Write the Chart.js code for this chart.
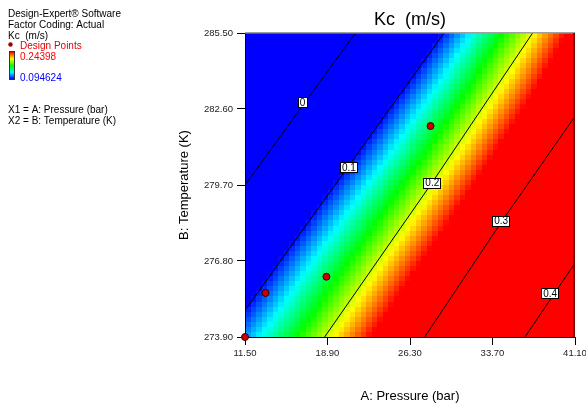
<!DOCTYPE html>
<html>
<head>
<meta charset="utf-8">
<script src="https://cdn.jsdelivr.net/npm/chart.js@4.4.1/dist/chart.umd.min.js"></script>
<style>
html,body{margin:0;padding:0;background:#fff;}
#wrap{width:586px;height:405px;position:relative;}
canvas{display:block;}
</style>
</head>
<body>
<div id="wrap"><canvas id="c" width="586" height="405"></canvas></div>
<script>
// ---------- data ----------
const pressureTicks = [11.5, 18.9, 26.3, 33.7, 41.1];        // A: Pressure (bar)
const temperatureTicks = [273.9, 276.8, 279.7, 282.6, 285.5]; // B: Temperature (K)
// Kc (m/s) read at the tick nodes: one row per temperature, one column per pressure
const kcAt2739 = [0.117, 0.201, 0.285, 0.368, 0.450];
const kcAt2768 = [0.060, 0.148, 0.233, 0.316, 0.398];
const kcAt2797 = [0.000, 0.090, 0.178, 0.265, 0.348];
const kcAt2826 = [-0.068, 0.026, 0.120, 0.212, 0.300];
const kcAt2855 = [-0.140, -0.040, 0.058, 0.158, 0.255];
const kcRows = [kcAt2739, kcAt2768, kcAt2797, kcAt2826, kcAt2855];
const kcMin = 0.094624, kcMax = 0.24398;
// contour lines (pressure, temperature)
const contourLevels = ['0', '0.1', '0.2', '0.3', '0.4'];
const contour0   = [[11.5, 279.70], [21.40, 285.5]];
const contour01  = [[11.5, 274.92], [29.36, 285.5]];
const contour02  = [[18.64, 273.9], [28.25, 279.77], [37.30, 285.5]];
const contour03  = [[27.62, 273.9], [34.55, 278.32], [39.0, 281.04], [41.1, 282.32]];
const contour04  = [[36.61, 273.9], [41.1, 276.72]];
const contourLines = [contour0, contour01, contour02, contour03, contour04];
const labelP = [16.67, 20.82, 28.30, 34.47, 38.87];
const labelT = [282.83, 280.35, 279.77, 278.32, 275.56];
// design points
const designP = [11.5, 13.34, 18.80, 28.14];
const designT = [273.9, 275.58, 276.20, 281.95];

const titleText = 'Kc  (m/s)';
const xTitle = 'A: Pressure (bar)';
const yTitle = 'B: Temperature (K)';
const infoLines = ['Design-Expert\u00ae Software', 'Factor Coding: Actual', 'Kc  (m/s)'];

// ---------- helpers ----------
const FONT = '"Liberation Sans", Arial, Helvetica, sans-serif';
Chart.defaults.font.family = FONT;

function seg(arr, v) {
  for (let i = 0; i < arr.length - 1; i++) if (v <= arr[i + 1]) return i;
  return arr.length - 2;
}
function surface(p, t) {
  const i = seg(pressureTicks, p), j = seg(temperatureTicks, t);
  const u = (p - pressureTicks[i]) / (pressureTicks[i + 1] - pressureTicks[i]);
  const w = (t - temperatureTicks[j]) / (temperatureTicks[j + 1] - temperatureTicks[j]);
  const a = kcRows[j][i], b = kcRows[j][i + 1], c = kcRows[j + 1][i], d = kcRows[j + 1][i + 1];
  return (a * (1 - u) + b * u) * (1 - w) + (c * (1 - u) + d * u) * w;
}
function rainbow(v) {
  let t = (v - kcMin) / (kcMax - kcMin);
  t = Math.max(0, Math.min(1, t));
  let r, g, b;
  if (t < 0.25) { r = 0; g = t / 0.25 * 255; b = 255; }
  else if (t < 0.5) { r = 0; g = 255; b = (1 - (t - 0.25) / 0.25) * 255; }
  else if (t < 0.75) { r = (t - 0.5) / 0.25 * 255; g = 255; b = 0; }
  else { r = 255; g = (1 - (t - 0.75) / 0.25) * 255; b = 0; }
  return 'rgb(' + Math.round(r) + ',' + Math.round(g) + ',' + Math.round(b) + ')';
}

const surfacePlugin = {
  id: 'kcSurface',
  beforeDraw(chart) {
    const { ctx, scales: { x, y } } = chart;
    const N = 60, M = 60;
    const p0 = pressureTicks[0], p1 = pressureTicks[pressureTicks.length - 1];
    const t0 = temperatureTicks[0], t1 = temperatureTicks[temperatureTicks.length - 1];
    ctx.save();
    for (let i = 0; i < N; i++) {
      const pa = p0 + (p1 - p0) * i / N, pb = p0 + (p1 - p0) * (i + 1) / N;
      const xa = Math.round(x.getPixelForValue(pa)), xb = Math.round(x.getPixelForValue(pb));
      for (let j = 0; j < M; j++) {
        const ta = t0 + (t1 - t0) * j / M, tb = t0 + (t1 - t0) * (j + 1) / M;
        const ya = Math.round(y.getPixelForValue(ta)), yb = Math.round(y.getPixelForValue(tb));
        ctx.fillStyle = rainbow(surface((pa + pb) / 2, (ta + tb) / 2));
        ctx.fillRect(xa, yb, xb - xa, ya - yb);
      }
    }
    ctx.restore();
  },
  afterDatasetsDraw(chart) {
    const { ctx, scales: { x, y } } = chart;
    ctx.save();
    ctx.font = '10px ' + FONT;
    ctx.textAlign = 'center';
    ctx.textBaseline = 'middle';
    contourLevels.forEach((lab, k) => {
      const cx = x.getPixelForValue(labelP[k]), cy = y.getPixelForValue(labelT[k]);
      const w = Math.round(ctx.measureText(lab).width + 4), h = 11;
      const bx = Math.round(cx - w / 2), by = Math.round(cy - h / 2);
      ctx.fillStyle = '#fff';
      ctx.fillRect(bx, by, w, h);
      ctx.strokeStyle = '#000';
      ctx.lineWidth = 1;
      ctx.strokeRect(bx + 0.5, by + 0.5, w - 1, h - 1);
      ctx.fillStyle = '#000';
      ctx.fillText(lab, cx, cy + 0.5);
    });
    ctx.restore();
  },
  afterDraw(chart) {
    const { ctx, chartArea: a } = chart;
    ctx.save();
    // frame top / right
    ctx.fillStyle = '#a0a0a0';
    ctx.fillRect(a.left, a.top - 1, a.right - a.left, 1.5);
    ctx.fillStyle = '#7a0000';
    ctx.fillRect(a.right - 1.7, a.top, 1.7, a.bottom - a.top);
    // info block
    ctx.font = '10px ' + FONT;
    ctx.textAlign = 'left';
    ctx.textBaseline = 'alphabetic';
    ctx.fillStyle = '#000';
    ctx.fillText(infoLines[0], 8, 17);
    ctx.fillText(infoLines[1], 8, 28);
    ctx.fillText(infoLines[2], 8, 38.5);
    ctx.beginPath();
    ctx.arc(10.5, 44.5, 2.2, 0, Math.PI * 2);
    ctx.fillStyle = '#a00000';
    ctx.fill();
    ctx.fillStyle = '#e00000';
    ctx.fillText('Design Points', 20, 48.5);
    // colour bar
    const g = ctx.createLinearGradient(0, 52, 0, 79);
    g.addColorStop(0, '#ff0000');
    g.addColorStop(0.25, '#ffff00');
    g.addColorStop(0.5, '#00ff00');
    g.addColorStop(0.75, '#00ffff');
    g.addColorStop(1, '#0000ff');
    ctx.fillStyle = g;
    ctx.fillRect(10, 52, 4, 27);
    ctx.strokeStyle = '#333';
    ctx.lineWidth = 1;
    ctx.strokeRect(9.5, 51.5, 5, 28);
    ctx.fillStyle = '#ff0000';
    ctx.fillText(kcMax.toString(), 20, 59.5);
    ctx.fillStyle = '#0000ff';
    ctx.fillText(kcMin.toString(), 20, 81);
    ctx.fillStyle = '#000';
    ctx.fillText('X1 = ' + xTitle, 8, 112.5);
    ctx.fillText('X2 = ' + yTitle, 8, 124);
    ctx.restore();
  }
};

const lineSets = contourLines.map((pts, k) => ({
  type: 'line',
  label: 'Kc = ' + contourLevels[k],
  data: pts.map(p => ({ x: p[0], y: p[1] })),
  borderColor: '#000',
  borderWidth: 1,
  pointRadius: 0,
  tension: 0,
  fill: false
}));

const pointSet = {
  type: 'scatter',
  label: 'Design Points',
  data: designP.map((p, i) => ({ x: p, y: designT[i] })),
  pointRadius: 3.5,
  pointBackgroundColor: '#c80000',
  pointBorderColor: '#3a0000',
  pointBorderWidth: 1,
  clip: false
};

new Chart(document.getElementById('c'), {
  type: 'scatter',
  data: { datasets: [...lineSets, pointSet] },
  plugins: [surfacePlugin],
  options: {
    responsive: false,
    animation: false,
    devicePixelRatio: 1,
    layout: { padding: { left: 160, right: 11, top: 0, bottom: 0 } },
    plugins: {
      legend: { display: false },
      tooltip: { enabled: false },
      title: {
        display: true, text: titleText, fullSize: false,
        font: { size: 18, weight: 'normal' }, color: '#000',
        padding: { top: 9, bottom: 2.4 }
      }
    },
    scales: {
      x: {
        type: 'linear',
        min: pressureTicks[0], max: pressureTicks[pressureTicks.length - 1],
        afterBuildTicks: s => { s.ticks = pressureTicks.map(v => ({ value: v })); },
        afterFit: s => { s.height = 68; s.paddingLeft = 0; s.paddingRight = 0; },
        ticks: { callback: v => Number(v).toFixed(2), font: { size: 9.5 }, color: '#222', padding: 3, maxRotation: 0, autoSkip: false },
        grid: { drawOnChartArea: false, drawTicks: true, tickLength: 8, color: '#000', lineWidth: 1 },
        border: { display: true, color: '#000', width: 1 },
        title: { display: true, text: xTitle, font: { size: 13 }, color: '#000', padding: { top: 0, bottom: 1 } }
      },
      y: {
        type: 'linear',
        min: temperatureTicks[0], max: temperatureTicks[temperatureTicks.length - 1],
        afterBuildTicks: s => { s.ticks = temperatureTicks.map(v => ({ value: v })); },
        afterFit: s => { s.width = 85; s.paddingTop = 0; s.paddingBottom = 0; },
        ticks: { callback: v => Number(v).toFixed(2), font: { size: 9.5 }, color: '#222', padding: 4, autoSkip: false },
        grid: { drawOnChartArea: false, drawTicks: true, tickLength: 8, color: '#000', lineWidth: 1 },
        border: { display: true, color: '#000', width: 1 },
        title: { display: true, text: yTitle, font: { size: 13 }, color: '#000', padding: { top: 17, bottom: 0 } }
      }
    }
  }
});
</script>
</body>
</html>
